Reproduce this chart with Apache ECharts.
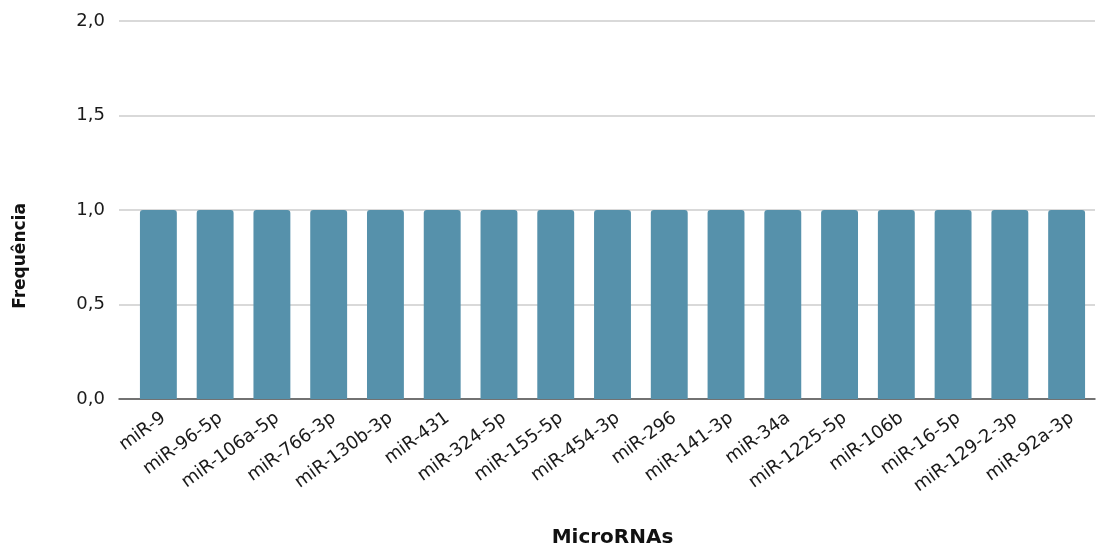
<!DOCTYPE html>
<html>
<head>
<meta charset="utf-8">
<script src="https://cdn.jsdelivr.net/npm/echarts@6/dist/echarts.min.js"></script>
<style>
  html, body { margin: 0; padding: 0; background: #ffffff; }
  #chart { width: 1096px; height: 547px; }
</style>
</head>
<body>
<div id="chart"></div>
<script>
// MicroRNA frequency data
const categories = [
  'miR-9', 'miR-96-5p', 'miR-106a-5p', 'miR-766-3p', 'miR-130b-3p', 'miR-431',
  'miR-324-5p', 'miR-155-5p', 'miR-454-3p', 'miR-296', 'miR-141-3p', 'miR-34a',
  'miR-1225-5p', 'miR-106b', 'miR-16-5p', 'miR-129-2-3p', 'miR-92a-3p'
];
const frequencies = [1, 1, 1, 1, 1, 1, 1, 1, 1, 1, 1, 1, 1, 1, 1, 1, 1];
const yTicks = { min: 0, max: 2, interval: 0.5 };

const FONT = '"DejaVu Sans", sans-serif';
const chart = echarts.init(document.getElementById('chart'), null, { renderer: 'canvas' });

const gridTop = 21;
const gridBottom = 148;

chart.setOption({
  animation: false,
  backgroundColor: '#ffffff',
  grid: [
    // frame for the value scale, gridlines and baseline
    { left: 119, right: 1, top: gridTop, bottom: gridBottom, outerBoundsMode: 'none', containLabel: false },
    // frame for the bars themselves
    { left: 130, right: 1, top: gridTop, bottom: gridBottom, outerBoundsMode: 'none', containLabel: false }
  ],
  xAxis: [
    {
      type: 'value', gridIndex: 0, min: 0, max: 1,
      axisLine: { show: true, lineStyle: { color: '#505050', width: 1.5 } },
      axisTick: { show: false }, axisLabel: { show: false }, splitLine: { show: false }
    },
    {
      type: 'category', gridIndex: 1, data: categories,
      axisLine: { show: false },
      axisTick: { show: false },
      axisLabel: {
        rotate: 36, interval: 0, margin: 10,
        align: 'right', verticalAlign: 'top',
        color: '#1a1a1a', fontSize: 18, fontFamily: FONT
      },
      name: 'MicroRNAs', nameLocation: 'middle', nameGap: 129,
      nameTextStyle: { fontSize: 20, fontWeight: 'bold', color: '#111', fontFamily: FONT }
    }
  ],
  yAxis: [
    {
      type: 'value', gridIndex: 0, min: yTicks.min, max: yTicks.max, interval: yTicks.interval,
      axisLine: { show: false }, axisTick: { show: false },
      axisLabel: {
        margin: 14, color: '#1a1a1a', fontSize: 18, fontFamily: FONT,
        formatter: v => v.toFixed(1).replace('.', ',')
      },
      splitLine: { show: true, lineStyle: { color: '#cccccc', width: 1.5 } }
    },
    {
      type: 'value', gridIndex: 1, min: yTicks.min, max: yTicks.max, interval: yTicks.interval,
      show: false, splitLine: { show: false }
    }
  ],
  graphic: [
    {
      type: 'text', x: 21, y: 256, rotation: Math.PI / 2,
      style: {
        text: 'Frequência', fontSize: 17, fontWeight: 'bold',
        fill: '#111', fontFamily: FONT,
        textAlign: 'center', textVerticalAlign: 'middle'
      }
    }
  ],
  series: [
    {
      type: 'bar', xAxisIndex: 1, yAxisIndex: 1,
      data: frequencies,
      barWidth: '65%',
      itemStyle: { color: '#5691ab', borderRadius: [3, 3, 0, 0] },
      z: 1
    }
  ]
});
</script>
</body>
</html>
